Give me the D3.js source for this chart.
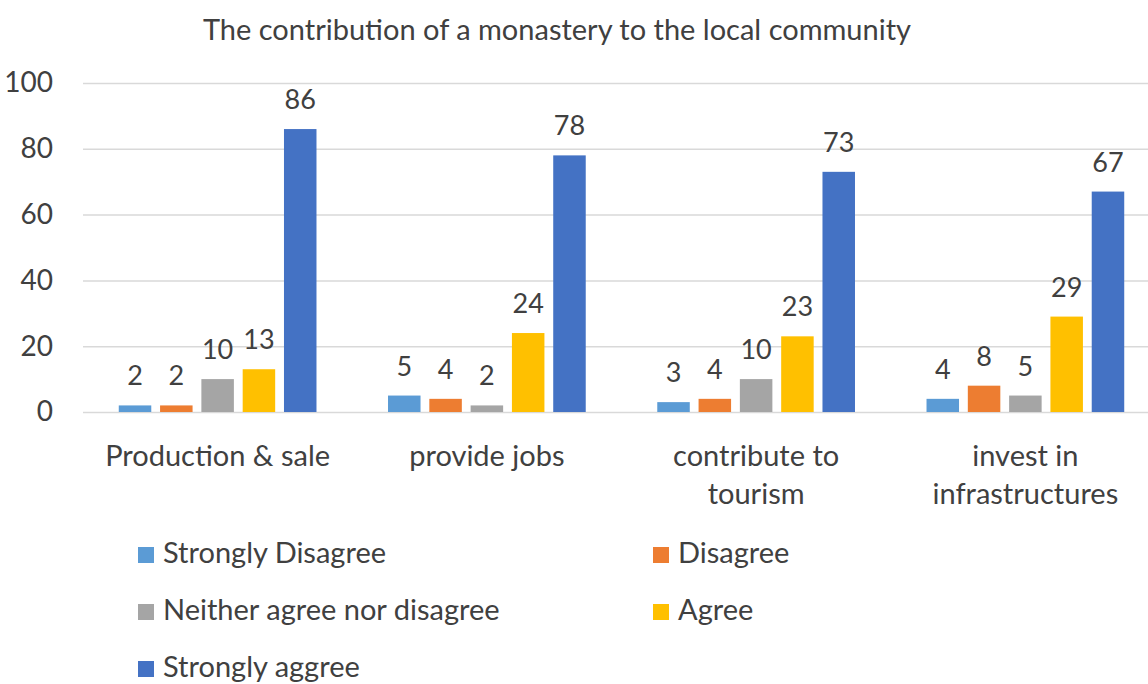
<!DOCTYPE html>
<html>
<head>
<meta charset="utf-8">
<script src="https://cdn.jsdelivr.net/npm/d3@7"></script>
<style>
  html, body { margin: 0; padding: 0; background: #ffffff; }
  svg { display: block; }
  text { font-family: Lato, "Open Sans", sans-serif; fill: #404040; }
</style>
</head>
<body>
<svg id="chart" width="1148" height="684"></svg>
<script>
// Survey responses (% of respondents) per statement
const categories = [
  ["Production & sale"],
  ["provide jobs"],
  ["contribute to", "tourism"],
  ["invest in", "infrastructures"]
];
const seriesNames = ["Strongly Disagree", "Disagree", "Neither agree nor disagree", "Agree", "Strongly aggree"];
const stronglyDisagree = [2, 5, 3, 4];
const disagree         = [2, 4, 4, 8];
const neither          = [10, 2, 10, 5];
const agree            = [13, 24, 23, 29];
const stronglyAgree    = [86, 78, 73, 67];
const yTicks = [0, 20, 40, 60, 80, 100];
const colors = ["#5B9BD5", "#ED7D31", "#A5A5A5", "#FFC000", "#4472C4"];

const seriesValues = [stronglyDisagree, disagree, neither, agree, stronglyAgree];
const catKeys = categories.map(c => c.join(" "));

const svg = d3.select("#chart");

// Title
svg.append("text")
  .attr("x", 557).attr("y", 40)
  .attr("text-anchor", "middle")
  .style("font-size", "29px")
  .text("The contribution of a monastery to the local community");

// Scales
const x0 = d3.scaleBand().domain(catKeys).range([83, 1160]).paddingInner(0.233).paddingOuter(0.1165);
const x1 = d3.scaleBand().domain(d3.range(seriesNames.length)).range([0, x0.bandwidth()]).paddingInner(0.213).paddingOuter(0.1065);
const y = d3.scaleLinear().domain([0, 100]).range([412, 83]);

// Gridlines and y tick labels
const yAxis = d3.axisLeft(y).tickValues(yTicks).tickSize(-1148).tickPadding(30);
const gy = svg.append("g").attr("transform", "translate(83,0)").call(yAxis);
gy.select(".domain").remove();
gy.selectAll(".tick line").attr("stroke", "#d9d9d9").attr("stroke-width", 1.5).attr("x1", 0).attr("x2", 1148 - 83);
gy.selectAll(".tick text")
  .attr("x", -30)
  .style("font-size", "28px").style("font-family", "Lato, sans-serif").attr("fill", "#404040");

// Bars
const groups = svg.append("g").selectAll("g")
  .data(catKeys)
  .join("g")
  .attr("transform", d => `translate(${x0(d)},0)`);

groups.each(function(cat, ci) {
  const g = d3.select(this);
  seriesValues.forEach((vals, si) => {
    const v = vals[ci];
    g.append("rect")
      .attr("x", x1(si))
      .attr("y", y(v))
      .attr("width", x1.bandwidth())
      .attr("height", y(0) - y(v))
      .attr("fill", colors[si]);
    g.append("text")
      .attr("x", x1(si) + x1.bandwidth() / 2)
      .attr("y", y(v) - 20)
      .attr("text-anchor", "middle")
      .style("font-size", "27px")
      .text(v);
  });
});

// Category labels
categories.forEach((lines, ci) => {
  const cx = x0(catKeys[ci]) + x0.bandwidth() / 2;
  const t = svg.append("text")
    .attr("text-anchor", "middle")
    .style("font-size", "29px");
  lines.forEach((ln, li) => {
    t.append("tspan").attr("x", cx).attr("y", 466 + li * 38).text(ln);
  });
});

// Legend
const legendCols = [138, 653];
const legendRows = [563, 620, 677];
seriesNames.forEach((name, i) => {
  const lx = legendCols[i % 2];
  const ly = legendRows[Math.floor(i / 2)];
  svg.append("rect")
    .attr("x", lx).attr("y", ly - 16)
    .attr("width", 16).attr("height", 16)
    .attr("fill", colors[i]);
  svg.append("text")
    .attr("x", lx + 25).attr("y", ly)
    .style("font-size", "29px")
    .text(name);
});
</script>
</body>
</html>
